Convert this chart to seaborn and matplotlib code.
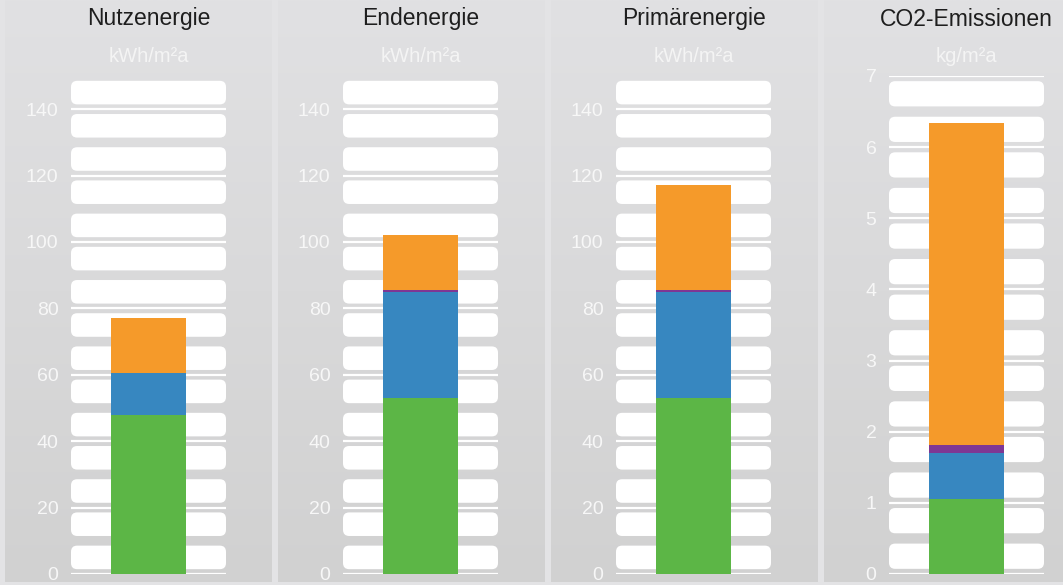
import numpy as np
import pandas as pd
import matplotlib
matplotlib.use("Agg")
import matplotlib.pyplot as plt
from matplotlib.patches import FancyBboxPatch
import seaborn as sns

# DATA
panels = ["Nutzenergie", "Endenergie", "Primärenergie", "CO2-Emissionen"]
units = ["kWh/m²a", "kWh/m²a", "kWh/m²a", "kg/m²a"]
green = [47.9, 53.0, 53.0, 1.05]
blue = [12.6, 31.9, 31.9, 0.65]
purple = [0.0, 0.6, 0.6, 0.11]
orange = [16.7, 16.6, 31.7, 4.53]
y_max = [150, 150, 150, 7]
y_step = [20, 20, 20, 1]

COLORS = ["#5cb646", "#3787c0", "#7e3794", "#f59a2a"]  # green, blue, purple, orange

sns.set_theme(style="white")
plt.rcParams["font.family"] = ["Liberation Sans", "DejaVu Sans"]

W, H = 1063, 585
fig = plt.figure(figsize=(W / 100, H / 100), dpi=100)
fig.patch.set_facecolor("#e3e3e5")

# background panels with vertical gradient
bg = fig.add_axes([0, 0, 1, 1], zorder=-10)
bg.set_xlim(0, W)
bg.set_ylim(0, H)
bg.axis("off")
grad = np.linspace(0, 1, 256).reshape(-1, 1)
cmap = matplotlib.colors.LinearSegmentedColormap.from_list("bg", ["#d1d1d1", "#e1e1e3"])
for x0, x1 in [(5, 272), (278, 545), (551, 818), (824, W)]:
    bg.imshow(grad, extent=(x0, x1, 3, H), origin="lower", cmap=cmap, aspect="auto")

ax_left = [71, 343, 616, 889]
ax_w, ax_bottom, ax_top = 155, 11, 509 + 0

for i, name in enumerate(panels):
    ax = fig.add_axes([ax_left[i] / W, ax_bottom / H, ax_w / W, (574 - 76) / H])
    ax.patch.set_alpha(0)
    ymax = y_max[i]
    step = y_step[i]

    # stacked bars (draw cumulative totals, top layer first)
    layers = [green[i], blue[i], purple[i], orange[i]]
    cum = np.cumsum(layers)
    for k in range(3, -1, -1):
        if layers[k] <= 0:
            continue
        df = pd.DataFrame({"panel": [name], "value": [cum[k]]})
        sns.barplot(data=df, x="panel", y="value", color=COLORS[k], saturation=1,
                    width=0.485, linewidth=0, ax=ax, zorder=3)

    ax.set_xlim(-0.5, 0.5)
    ax.set_ylim(0, ymax)

    # white rounded bands and tick lines
    px_per_y = (574 - 76) / ymax
    aspect = ax_w / px_per_y
    ticks = np.arange(0, ymax + 0.001, step)
    for t in ticks:
        ax.axhline(t, color="white", lw=1.6, zorder=1)
        for c in (0.25, 0.75):
            yc = t + c * step
            if yc > ymax:
                continue
            h = 0.355 * step
            box = FancyBboxPatch((-0.5, yc - h / 2), 1.0, h,
                                 boxstyle="round,pad=0,rounding_size=0.04",
                                 mutation_aspect=aspect, fc="white", ec="none",
                                 zorder=1, clip_on=False)
            ax.add_patch(box)

    ax.set_yticks(ticks)
    ax.set_yticklabels([f"{int(t)}" for t in ticks], color="#f7f7f7", fontsize=14)
    ax.tick_params(axis="y", length=0, pad=9)
    ax.set_xticks([])
    ax.set_xlabel("")
    ax.set_ylabel("")
    for s in ax.spines.values():
        s.set_visible(False)

    cx = (ax_left[i] + ax_w / 2) / W
    fig.text(cx, 1 - 19 / H, name, ha="center", va="center", fontsize=16.5, color="#1e1e1e")
    fig.text(cx, 1 - 57 / H, units[i], ha="center", va="center", fontsize=14.5, color="#f4f4f4")

fig.savefig("out.png", dpi=100)
